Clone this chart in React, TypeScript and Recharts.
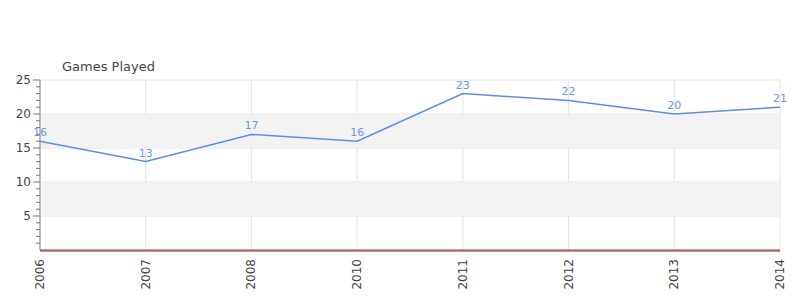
import React from "react";
import { LineChart, Line, XAxis, YAxis, CartesianGrid, ReferenceArea, ReferenceLine, LabelList } from "recharts";

const years = ["2006", "2007", "2008", "2010", "2011", "2012", "2013", "2014"];
const games = [16, 13, 17, 16, 23, 22, 20, 21];
const yTicks = Array.from({ length: 26 }, (_, i) => i);
const bands: [number, number][] = [[5, 10], [15, 20]];

const data = years.map((y, i) => ({ year: y, games: games[i] }));

const FONT = "DejaVu Sans, sans-serif";

const YTick = (props: any) => {
  const { x, y, payload } = props;
  const v = payload.value as number;
  const major = v % 5 === 0;
  const ax = x + 8;
  return (
    <g>
      {v !== 0 && (
        <line x1={ax - (major ? 7 : 4)} x2={ax} y1={y} y2={y} stroke="#777" strokeWidth={1} />
      )}
      {major && v !== 0 && (
        <text x={ax - 9} y={y} dy={4} textAnchor="end" fontSize={12} fill="#444" fontFamily={FONT}>
          {v}
        </text>
      )}
    </g>
  );
};

const XTick = (props: any) => {
  const { x, y, payload } = props;
  return (
    <text
      x={x}
      y={y}
      transform={`rotate(-90, ${x}, ${y})`}
      dx={-1}
      dy={4}
      textAnchor="end"
      fontSize={12}
      fill="#444"
      fontFamily={FONT}
    >
      {payload.value}
    </text>
  );
};

export default function App() {
  return (
    <div style={{ position: "absolute", left: 0, top: 0, width: 800, height: 300, background: "#fff" }}>
      <div
        style={{
          position: "absolute",
          left: 62,
          top: 59,
          fontSize: 13,
          color: "#444",
          fontFamily: FONT,
        }}
      >
        Games Played
      </div>
      <LineChart width={800} height={300} data={data} margin={{ top: 80, right: 20, left: 0, bottom: 0 }}>
        {bands.map(([a, b]) => (
          <ReferenceArea key={a} y1={a} y2={b} fill="#f3f3f3" fillOpacity={1} stroke="none" ifOverflow="visible" />
        ))}
        <CartesianGrid stroke="#e4e4e4" horizontalValues={[5, 10, 15, 20, 25]} />
        <XAxis
          dataKey="year"
          scale="point"
          padding={{ left: 0, right: 0 }}
          height={50}
          tick={<XTick />}
          tickLine={false}
          interval={0}
          axisLine={{ stroke: "#444", transform: "translate(0,1)" }}
        />
        <YAxis
          width={40}
          domain={[0, 25]}
          ticks={yTicks}
          interval={0}
          tick={<YTick />}
          tickLine={false}
          axisLine={{ stroke: "#888" }}
        />
        <ReferenceLine y={0} stroke="#e02020" strokeWidth={1} />
        <Line
          type="linear"
          dataKey="games"
          stroke="#5b8ee8"
          strokeWidth={1.5}
          dot={false}
          isAnimationActive={false}
        >
          <LabelList dataKey="games" position="top" offset={5} fontSize={11} fill="#6b98e6" fontFamily={FONT} />
        </Line>
      </LineChart>
    </div>
  );
}
